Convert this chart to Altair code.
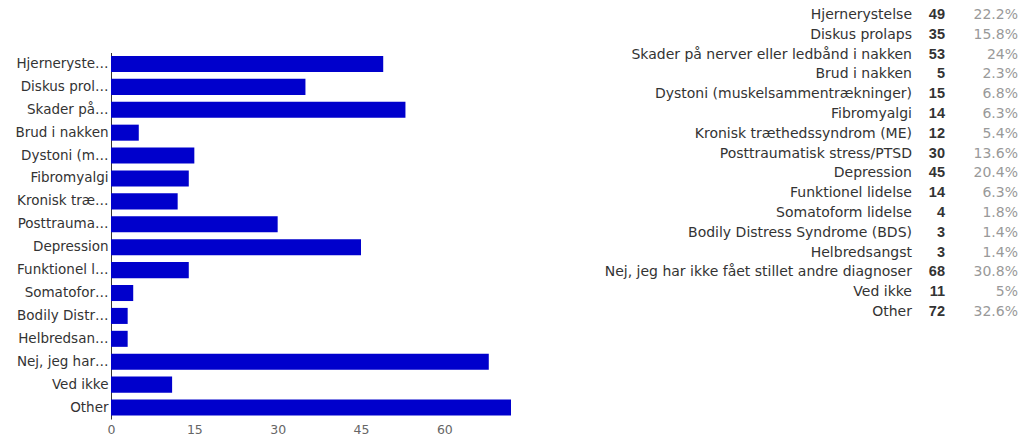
import altair as alt
import pandas as pd

# Survey answers: full names, shortened axis labels, counts and shares
names = [
    "Hjernerystelse",
    "Diskus prolaps",
    "Skader på nerver eller ledbånd i nakken",
    "Brud i nakken",
    "Dystoni (muskelsammentrækninger)",
    "Fibromyalgi",
    "Kronisk træthedssyndrom (ME)",
    "Posttraumatisk stress/PTSD",
    "Depression",
    "Funktionel lidelse",
    "Somatoform lidelse",
    "Bodily Distress Syndrome (BDS)",
    "Helbredsangst",
    "Nej, jeg har ikke fået stillet andre diagnoser",
    "Ved ikke",
    "Other",
]
short_labels = [
    "Hjerneryste…",
    "Diskus prol…",
    "Skader på…",
    "Brud i nakken",
    "Dystoni (m…",
    "Fibromyalgi",
    "Kronisk træ…",
    "Posttrauma…",
    "Depression",
    "Funktionel l…",
    "Somatofor…",
    "Bodily Distr…",
    "Helbredsan…",
    "Nej, jeg har…",
    "Ved ikke",
    "Other",
]
counts = [49, 35, 53, 5, 15, 14, 12, 30, 45, 14, 4, 3, 3, 68, 11, 72]
percents = ["22.2%", "15.8%", "24%", "2.3%", "6.8%", "6.3%", "5.4%", "13.6%",
            "20.4%", "6.3%", "1.8%", "1.4%", "1.4%", "30.8%", "5%", "32.6%"]
x_ticks = [0, 15, 30, 45, 60]

df = pd.DataFrame({
    "name": names,
    "short": short_labels,
    "count": counts,
    "pct": percents,
})

FONT = "DejaVu Sans"
BAR_COLOR = "#0000cc"

bars = alt.Chart(df).mark_bar(color=BAR_COLOR).encode(
    x=alt.X(
        "count:Q",
        scale=alt.Scale(domain=[0, 72], range=[0, 400], nice=False, zero=True),
        axis=alt.Axis(
            values=x_ticks, title=None, grid=False, domain=False, ticks=False,
            labelFont=FONT, labelFontSize=12.5, labelColor="#666666",
            labelPadding=4, labelFlush=False,
        ),
    ),
    y=alt.Y(
        "short:N",
        sort=short_labels,
        scale=alt.Scale(range=[52.5, 419], paddingInner=0.3, paddingOuter=0.15),
        axis=alt.Axis(
            title=None, ticks=False, domain=True, domainColor="#333333",
            domainWidth=1, labelFont=FONT, labelFontSize=13.5,
            labelColor="#333333", labelPadding=3, labelLimit=200,
        ),
    ),
)

row_y = alt.Y(
    "name:N",
    sort=names,
    scale=alt.Scale(range=[5, 322], paddingInner=0, paddingOuter=0),
    axis=None,
)

table_names = alt.Chart(df).mark_text(
    align="right", baseline="middle", font=FONT, fontSize=14, color="#333333"
).encode(x=alt.value(801), y=row_y, text="name:N")

table_counts = alt.Chart(df).mark_text(
    align="right", baseline="middle", font="Liberation Sans", fontSize=14.5,
    fontWeight="bold", color="#333333"
).encode(x=alt.value(834), y=row_y, text="count:Q")

table_pcts = alt.Chart(df).mark_text(
    align="right", baseline="middle", font=FONT, fontSize=14, color="#999999"
).encode(x=alt.value(907), y=row_y, text="pct:N")

chart = alt.layer(bars, table_names, table_counts, table_pcts).resolve_scale(
    y="independent"
).properties(
    width=910,
    height=419,
    autosize=alt.AutoSizeParams(type="none"),
    padding={"left": 111, "top": 0, "right": 0, "bottom": 17},
).configure_view(stroke=None)

chart.save("out.html", embed_options={"renderer": "svg", "actions": False})
